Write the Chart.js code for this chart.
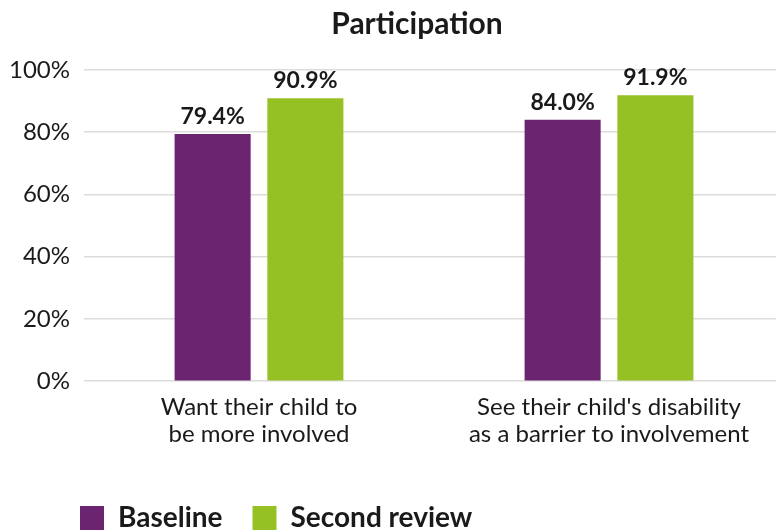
<!DOCTYPE html>
<html>
<head>
<meta charset="utf-8">
<script src="https://cdn.jsdelivr.net/npm/chart.js@4.4.0/dist/chart.umd.min.js"></script>
<style>
  html, body { margin: 0; padding: 0; background: #fff; overflow: hidden; }
</style>
</head>
<body>
<canvas id="myChart" width="784" height="542"></canvas>
<script>
const categories = [
  ['Want their child to', 'be more involved'],
  ['See their child\'s disability', 'as a barrier to involvement'],
];
const baseline = [79.4, 84.0];
const secondReview = [90.9, 91.9];
const yTicks = [0, 20, 40, 60, 80, 100];

const FONT = 'Lato, "Open Sans", sans-serif';
const INK = '#1a1a1a';

// percentage labels sitting above each bar
const valueLabels = {
  id: 'valueLabels',
  afterDatasetsDraw(chart) {
    const ctx = chart.ctx;
    ctx.save();
    ctx.font = 'bold 23px ' + FONT;
    ctx.fillStyle = INK;
    ctx.textAlign = 'center';
    ctx.textBaseline = 'bottom';
    chart.data.datasets.forEach((ds, i) => {
      chart.getDatasetMeta(i).data.forEach((bar, j) => {
        ctx.fillText(ds.data[j].toFixed(1) + '%', bar.x, bar.y - 6);
      });
    });
    ctx.restore();
  },
};

// y tick labels may spill into the left padding, so widen their clip box
const yGutter = {
  id: 'yGutter',
  afterLayout(chart) {
    chart.scales.y.left = 0;
  },
};

const chart = new Chart(document.getElementById('myChart'), {
  type: 'bar',
  data: {
    labels: categories,
    datasets: [
      { label: 'Baseline', data: baseline, backgroundColor: '#6B2570' },
      { label: 'Second review', data: secondReview, backgroundColor: '#96C125' },
    ],
  },
  options: {
    responsive: false,
    animation: false,
    categoryPercentage: 0.53,
    barPercentage: 0.82,
    layout: { padding: { left: 50 } },
    plugins: {
      tooltip: { enabled: false },
      title: {
        display: true,
        text: 'Participation',
        color: INK,
        font: { family: FONT, size: 30, weight: 'bold' },
        padding: { top: 6, bottom: 28 },
      },
      legend: {
        position: 'bottom',
        align: 'start',
        labels: {
          color: INK,
          font: { family: FONT, size: 28, weight: 'bold' },
          boxWidth: 24,
          boxHeight: 24,
          padding: 30,
        },
      },
    },
    scales: {
      x: {
        grid: { display: false },
        border: { display: false },
        ticks: {
          color: INK,
          padding: 5,
          font: { family: FONT, size: 24, lineHeight: 1.12 },
          maxRotation: 0,
        },
        afterFit(scale) { scale.height += 21; },
      },
      y: {
        min: 0,
        max: 100,
        afterBuildTicks(scale) { scale.ticks = yTicks.map(v => ({ value: v })); },
        afterFit(scale) { scale.width = 34; },
        grid: { color: '#dcdcdc', lineWidth: 1.5, drawTicks: false },
        border: { display: false },
        ticks: {
          color: INK,
          padding: 14,
          font: { family: FONT, size: 24 },
          callback: v => v + '%',
        },
      },
    },
  },
  plugins: [valueLabels, yGutter],
});
</script>
</body>
</html>
